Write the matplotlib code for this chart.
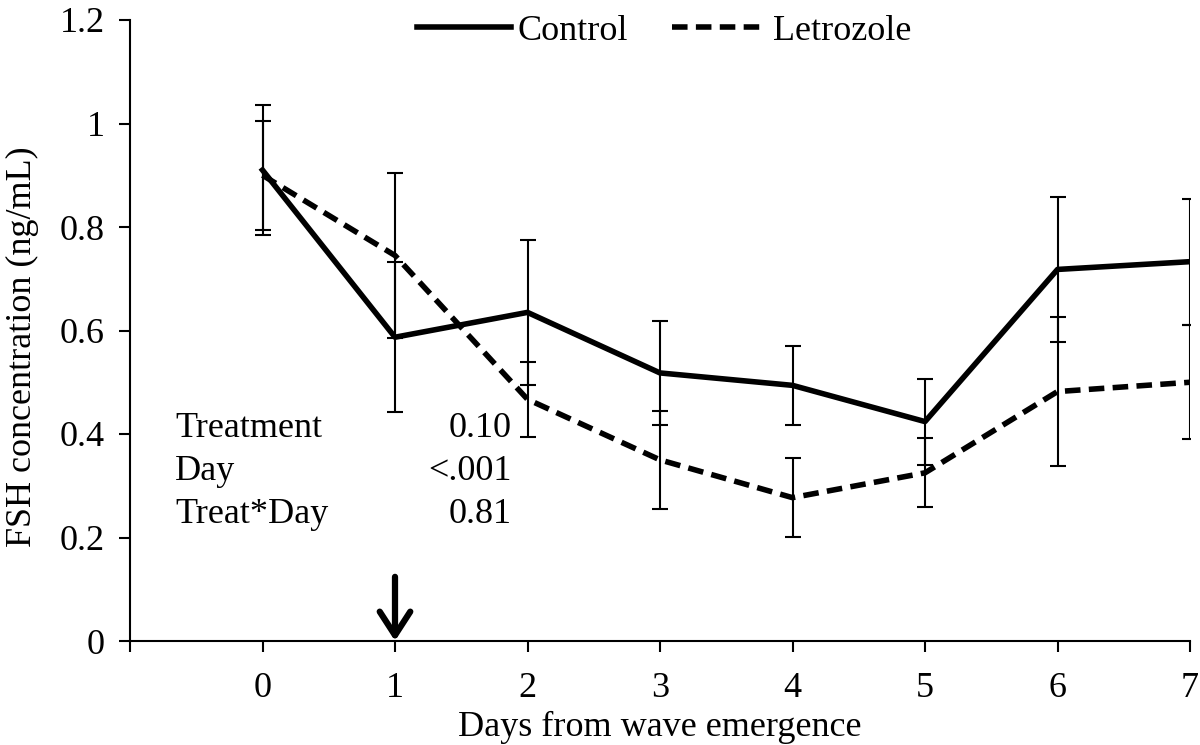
import matplotlib
matplotlib.use("Agg")
import matplotlib.pyplot as plt
from matplotlib.lines import Line2D

days = [0, 1, 2, 3, 4, 5, 6, 7]
control = [0.91, 0.587, 0.635, 0.518, 0.494, 0.424, 0.718, 0.733]
control_err = [0.125, 0.145, 0.14, 0.10, 0.076, 0.083, 0.14, 0.122]
letrozole = [0.90, 0.745, 0.467, 0.35, 0.277, 0.325, 0.482, 0.50]
letrozole_err = [0.105, 0.16, 0.073, 0.095, 0.076, 0.067, 0.144, 0.11]
xticks = [-1, 0, 1, 2, 3, 4, 5, 6, 7]
xticklabels = ["", "0", "1", "2", "3", "4", "5", "6", "7"]
yticks = [0, 0.2, 0.4, 0.6, 0.8, 1.0, 1.2]
yticklabels = ["0", "0.2", "0.4", "0.6", "0.8", "1", "1.2"]
stats_names = ["Treatment", "Day", "Treat*Day"]
stats_vals = ["0.10", "<.001", "0.81"]

plt.rcParams['font.family'] = ['Liberation Serif', 'DejaVu Serif']
fs = 26

W, H = 1200, 745
fig = plt.figure(figsize=(12, 7.45), dpi=100)
ax = fig.add_axes([130 / W, 1 - 641 / H, 1060 / W, 621 / H])

dash = (0, (2.8, 1.5))
ax.errorbar(days, control, yerr=control_err, color='black', lw=4,
            elinewidth=1.5, capsize=5.8, capthick=1.5, ls='-')
ax.errorbar(days, letrozole, yerr=letrozole_err, color='black', lw=4,
            elinewidth=1.5, capsize=5.8, capthick=1.5, ls=dash)

ax.set_xlim(-1, 7)
ax.set_ylim(0, 1.2)
ax.set_xticks(xticks)
ax.set_xticklabels(xticklabels, fontsize=fs)
ax.set_yticks(yticks)
ax.set_yticklabels(yticklabels, fontsize=fs)
ax.tick_params(axis='x', direction='out', length=8, width=1.5, pad=14)
ax.tick_params(axis='y', direction='out', length=8, width=1.5, pad=10)
for s in ['top', 'right']:
    ax.spines[s].set_visible(False)
for s in ['left', 'bottom']:
    ax.spines[s].set_linewidth(1.5)
    ax.spines[s].set_clip_on(False)

ax.set_xlabel("Days from wave emergence", fontsize=fs)
ax.xaxis.set_label_coords(0.5, (641 - 711) / 621)
fig.text(22 / W, 1 - 347 / H, "FSH concentration (ng/mL)", fontsize=fs,
         rotation=90, ha='center', va='center')

handles = [Line2D([0], [0], color='black', lw=4, ls='-'),
           Line2D([0], [0], color='black', lw=4, ls=dash)]
fig.legend(handles, ['Control', 'Letrozole'], loc='center',
           bbox_to_anchor=(664 / W, 1 - 31 / H), bbox_transform=fig.transFigure,
           ncol=2, frameon=False, fontsize=fs,
           handlelength=2.6, columnspacing=1.2, handletextpad=0.2,
           borderpad=0, borderaxespad=0)

# statistics text
for i, (n, v) in enumerate(zip(stats_names, stats_vals)):
    yv = 0.41 - i * 0.083
    ax.text(-0.66, yv, n, fontsize=fs, ha='left', va='center')
    ax.text(1.88, yv, v, fontsize=fs, ha='right', va='center')

# arrow at day 1
ax.annotate('', xy=(1, 0.0), xytext=(1, 0.124),
            arrowprops=dict(arrowstyle='->,head_width=0.55,head_length=0.85',
                            mutation_scale=20, color='black', lw=4.5,
                            shrinkA=0, shrinkB=0),
            annotation_clip=False)

fig.savefig("out.png", dpi=100)
